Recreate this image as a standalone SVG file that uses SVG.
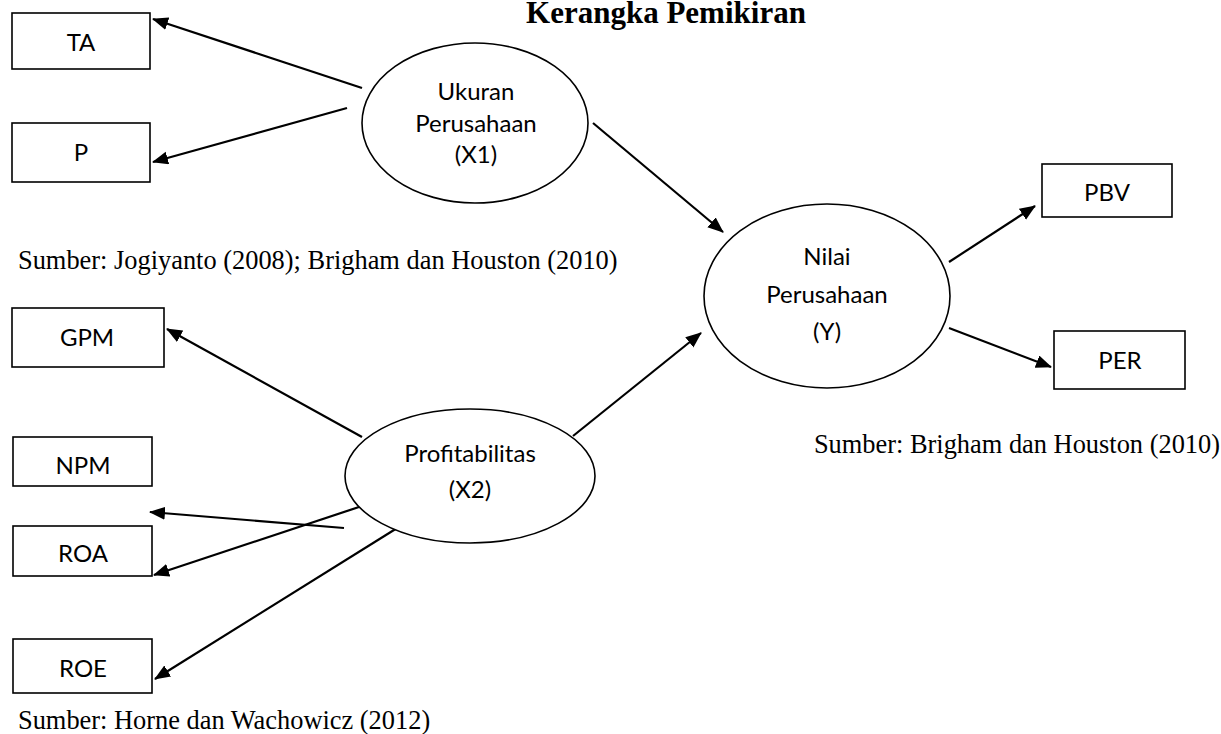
<svg xmlns="http://www.w3.org/2000/svg" width="1221" height="734" viewBox="0 0 1221 734">
<style>
.box{fill:#fff;stroke:#000;stroke-width:1.6}
.ell{fill:#fff;stroke:#000;stroke-width:1.6}
.lbl{font-family:Lato,"Noto Sans",sans-serif;font-size:24px;fill:#000;text-anchor:middle}
.src{font-family:"Liberation Serif","Times New Roman",serif;font-size:26.4px;fill:#000}
.title{font-family:"Liberation Serif","Times New Roman",serif;font-size:31px;font-weight:bold;fill:#000;text-anchor:middle}
.con line{stroke:#000;stroke-width:2.2;marker-end:url(#ah)}
</style>
<defs>
<marker id="ah" markerUnits="userSpaceOnUse" markerWidth="17" markerHeight="14" refX="15" refY="6.5" orient="auto">
<path d="M0,0 L16,6.5 L0,13 z" fill="#000"/>
</marker>
</defs>
<rect width="1221" height="734" fill="#fff"/>
<text class="title" x="666" y="23">Kerangka Pemikiran</text>

<g id="connectors" class="con">
<line x1="362" y1="88" x2="153" y2="19"/>
<line x1="347" y1="108" x2="153" y2="162"/>
<line x1="593" y1="123" x2="723" y2="232"/>
<line x1="573" y1="436" x2="701" y2="333"/>
<line x1="949" y1="262" x2="1035" y2="206"/>
<line x1="949" y1="328" x2="1051" y2="367"/>
<line x1="362" y1="437" x2="167" y2="329"/>
<line x1="344" y1="528" x2="150" y2="512"/>
<line x1="362" y1="506" x2="154" y2="575"/>
<line x1="402" y1="525" x2="155" y2="679"/>
</g>

<g id="node-TA"><rect class="box" x="12" y="13" width="138" height="56"/><text class="lbl" x="81" y="51">TA</text></g>
<g id="node-P"><rect class="box" x="12" y="123" width="138" height="59"/><text class="lbl" x="81" y="161">P</text></g>
<g id="node-GPM"><rect class="box" x="12" y="308" width="152" height="59"/><text class="lbl" x="87" y="346">GPM</text></g>
<g id="node-NPM"><rect class="box" x="13" y="437" width="139" height="49"/><text class="lbl" x="83" y="474">NPM</text></g>
<g id="node-ROA"><rect class="box" x="13" y="526" width="139" height="50"/><text class="lbl" x="83" y="562">ROA</text></g>
<g id="node-ROE"><rect class="box" x="13" y="639" width="139" height="54"/><text class="lbl" x="83" y="677">ROE</text></g>
<g id="node-PBV"><rect class="box" x="1042" y="164" width="130" height="53"/><text class="lbl" x="1107" y="201">PBV</text></g>
<g id="node-PER"><rect class="box" x="1054" y="331" width="131" height="58"/><text class="lbl" x="1120" y="369">PER</text></g>

<g id="node-X1"><ellipse class="ell" cx="475" cy="123" rx="113" ry="80"/>
<text class="lbl" x="476" y="100">Ukuran</text><text class="lbl" x="476" y="132">Perusahaan</text><text class="lbl" x="476" y="163">(X1)</text></g>
<g id="node-X2"><ellipse class="ell" cx="470" cy="476" rx="125" ry="67"/>
<text class="lbl" x="470" y="462">Profitabilitas</text><text class="lbl" x="470" y="498">(X2)</text></g>
<g id="node-Y"><ellipse class="ell" cx="827" cy="296" rx="123" ry="92"/>
<text class="lbl" x="827" y="265">Nilai</text><text class="lbl" x="827" y="303">Perusahaan</text><text class="lbl" x="827" y="340">(Y)</text></g>

<text class="src" x="18" y="269">Sumber: Jogiyanto (2008); Brigham dan Houston (2010)</text>
<text class="src" x="1220" y="453" text-anchor="end">Sumber: Brigham dan Houston (2010)</text>
<text class="src" x="18" y="729">Sumber: Horne dan Wachowicz (2012)</text>
</svg>
